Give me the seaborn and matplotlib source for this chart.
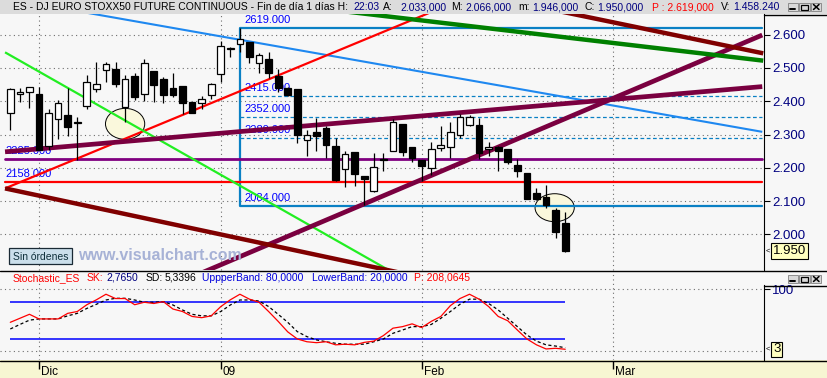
import numpy as np
import pandas as pd
import matplotlib
matplotlib.use("Agg")
import matplotlib.pyplot as plt
from matplotlib.patches import Rectangle, Ellipse
import seaborn as sns

# ---------------- data ----------------
opens  = [2364, 2422, 2429, 2422, 2264, 2346, 2359, 2334, 2387, 2436, 2494, 2497, 2384, 2476, 2422,
          2491, 2466, 2439, 2446, 2399, 2394, 2419, 2481, 2557, 2572, 2579, 2514, 2526, 2476, 2441,
          2436, 2282, 2309, 2319, 2266, 2196, 2246, 2174, 2129, 2226, 2249, 2331, 2262, 2224, 2199,
          2259, 2262, 2299, 2329, 2329, 2257, 2263, 2256, 2209, 2184, 2124, 2112, 2074, 2033]
highs  = [2440, 2439, 2444, 2444, 2376, 2404, 2439, 2354, 2479, 2519, 2519, 2519, 2479, 2484, 2526,
          2491, 2474, 2484, 2446, 2399, 2416, 2454, 2582, 2562, 2619, 2579, 2546, 2547, 2496, 2444,
          2436, 2314, 2349, 2326, 2289, 2249, 2246, 2174, 2244, 2244, 2346, 2331, 2262, 2224, 2277,
          2327, 2339, 2362, 2359, 2349, 2276, 2266, 2256, 2226, 2184, 2139, 2149, 2079, 2066]
lows   = [2314, 2399, 2379, 2252, 2254, 2286, 2294, 2224, 2376, 2429, 2459, 2444, 2339, 2404, 2401,
          2399, 2394, 2412, 2362, 2364, 2376, 2407, 2459, 2532, 2549, 2516, 2484, 2469, 2429, 2416,
          2274, 2234, 2249, 2229, 2159, 2142, 2146, 2089, 2126, 2189, 2249, 2236, 2216, 2159, 2179,
          2251, 2229, 2289, 2326, 2226, 2234, 2189, 2212, 2172, 2106, 2104, 2079, 1989, 1946]
closes = [2436, 2429, 2444, 2252, 2364, 2394, 2322, 2337, 2457, 2451, 2511, 2451, 2466, 2412, 2514,
          2449, 2419, 2419, 2396, 2366, 2407, 2451, 2567, 2559, 2587, 2532, 2539, 2484, 2439, 2419,
          2299, 2299, 2296, 2269, 2164, 2241, 2181, 2166, 2202, 2222, 2337, 2246, 2229, 2204, 2256,
          2269, 2309, 2354, 2354, 2244, 2263, 2251, 2216, 2189, 2106, 2106, 2087, 2007, 1950]
sk = [46.5, 53, 59.5, 52, 52, 52, 61, 64, 75, 83, 92, 85, 85, 75, 79, 77, 80, 68, 64, 56, 54, 57,
      72, 83, 92, 84, 79, 64, 48, 31, 19.5, 15, 13.5, 15, 10, 11, 10, 14, 16, 25, 37, 39.5, 44, 38,
      48, 56, 73.5, 85, 92, 84, 72, 56, 49, 34, 19.5, 10, 3.3, 4.4, 2.8]
sd = [35.7, 43, 50, 52, 52, 52, 57, 61, 69, 75.7, 82.7, 85.4, 85.4, 82.7, 79, 79, 80, 74.6, 66.5,
      59.5, 57, 57, 64, 74.6, 82.7, 82.7, 81, 72, 59.5, 46.5, 31.4, 23.3, 18, 15, 12.5, 11, 11, 11,
      15, 19.5, 28.7, 34, 39.5, 39.5, 43, 53, 64, 75.7, 84, 84, 77, 66.5, 53, 39.5, 26, 16, 10, 8, 5.3]
tick_labels = ["Dic", "09", "Feb", "Mar"]
tick_idx = [3, 22, 43, 63]
price_ticks = [2000, 2100, 2200, 2300, 2400, 2500, 2600]
stoch_bands = [80, 20]

# drawing objects (index, price) anchors
blue_line     = [(7.0, 2671), (78.6, 2308)]
red_line      = [(-0.55, 2138), (45.0, 2680)]
maroon_low    = [(-0.55, 2248), (78.6, 2444)]
maroon_steep  = [(20.0, 1884), (78.6, 2599)]
darkred_low   = [(-0.55, 2138), (40.5, 1886)]
darkred_high  = [(57.5, 2670), (78.7, 2544)]
green_line    = [(35.0, 2670), (78.7, 2522)]
lime_line     = [(-0.55, 2547), (40.0, 1885)]
level_purple  = 2225
level_red     = 2158
levels_span   = (-0.55, 78.6)
fib_levels    = [2619, 2415, 2352, 2289, 2084]
fib_span      = (24, 78.6)
ellipses      = [(12.0, 2332, 4.1, 93), (56.9, 2080, 4.1, 84)]

# ---------------- style / layout ----------------
sns.set_style("white")
plt.rcParams['font.family'] = ['Liberation Sans', 'DejaVu Sans']

W, H = 828, 378
BG = '#F7F7F7'
NAVY = '#000080'
fig = plt.figure(figsize=(W / 100, H / 100), dpi=100, facecolor=BG)


def box(x0, y0, x1, y1):
    return [x0 / W, 1 - y1 / H, (x1 - x0) / W, (y1 - y0) / H]


BAR0, BARW = 10.3, 9.567
XL = ((0 - BAR0) / BARW, (764 - BAR0) / BARW)
YL = (2600 - (270 - 34.7) * 3.006, 2600 + (34.7 - 14) * 3.006)
SPP = 100 / 61.7
YLS = (-(360 - 351) * SPP, 100 + (289.3 - 270) * SPP)
DOT = dict(color='#6E6E6E', lw=0.8, ls=(0, (1, 3)), zorder=0.5)

# ---------------- main price panel ----------------
ax = fig.add_axes(box(0, 14, 764, 270))
ax.set_facecolor(BG)
ax.set_xlim(*XL)
ax.set_ylim(*YL)
for p in price_ticks:
    ax.axhline(p, **DOT)
for t in tick_idx:
    ax.axvline(t, **DOT)

# ellipses
for cx, cy, ew, eh in ellipses:
    ax.add_patch(Ellipse((cx, cy), ew, eh, facecolor='#FAF8DC', edgecolor='black', lw=0.7, zorder=1))

# level labels
ax.annotate(f"{level_purple:.3f}", (levels_span[0], level_purple), xytext=(0, 8),
            textcoords='offset pixels', va='center', ha='left', fontsize=8, color='#0000FF', zorder=1.5)
ax.annotate(f"{level_red:.3f}", (levels_span[0], level_red), xytext=(0, 8),
            textcoords='offset pixels', va='center', ha='left', fontsize=8, color='#0000FF', zorder=1.5)
for lv in fib_levels:
    ax.annotate(f"{lv:.3f}", (fib_span[0], lv), xytext=(5, 8), textcoords='offset pixels',
                va='center', ha='left', fontsize=8, color='#0000FF', zorder=1.5, annotation_clip=False)

# fib rectangle + dashed levels
FIB = '#0A80C4'
ax.plot([fib_span[1], fib_span[0], fib_span[0], fib_span[1]],
        [fib_levels[0], fib_levels[0], fib_levels[-1], fib_levels[-1]], color=FIB, lw=1.6, zorder=2)
for lv in fib_levels[1:-1]:
    ax.plot(fib_span, [lv, lv], color=FIB, lw=0.9, ls=(0, (3, 2)), zorder=2)

# horizontal levels
ax.plot(levels_span, [level_purple] * 2, color='#800080', lw=2.0, zorder=2)
ax.plot(levels_span, [level_red] * 2, color='#FF0000', lw=1.6, zorder=2)


def seg(pts, **kw):
    xs, ys = zip(*pts)
    ax.plot(xs, ys, solid_capstyle='butt', zorder=2, **kw)


seg(blue_line, color='#1E88F0', lw=1.5)
seg(red_line, color='#FF0000', lw=1.6)
seg(lime_line, color='#22EE22', lw=1.6)
seg(maroon_low, color='#7A0040', lw=3.4)
seg(maroon_steep, color='#7A0040', lw=3.4)
seg(darkred_low, color='#800000', lw=3.2)
seg(darkred_high, color='#800000', lw=3.2)
seg(green_line, color='#008000', lw=3.2)

# candles
o, hi, lo, c = (np.array(v, dtype=float) for v in (opens, highs, lows, closes))
idx = np.arange(len(o))
up = c >= o
ax.vlines(idx, lo, hi, color='black', lw=0.9, zorder=3)
ax.bar(idx[up], np.maximum((c - o)[up], 3), bottom=o[up], width=0.7, color='white',
       edgecolor='black', lw=0.9, zorder=4)
ax.bar(idx[~up], np.maximum((o - c)[~up], 3), bottom=c[~up], width=0.7, color='black',
       edgecolor='black', lw=0.9, zorder=4)

ax.yaxis.tick_right()
ax.set_yticks(price_ticks)
ax.set_yticklabels([f"{p / 1000:.3f}" for p in price_ticks])
ax.tick_params(axis='y', direction='out', length=4, width=0.8, colors='black',
               labelcolor=NAVY, labelsize=9.5, pad=2)
ax.set_xticks([])
for s in ('left', 'top', 'bottom'):
    ax.spines[s].set_visible(False)
ax.spines['right'].set_color('black')
ax.spines['right'].set_linewidth(0.8)

ax.annotate(f"{closes[-1] / 1000:.3f}", xy=(1.0, closes[-1]), xycoords=ax.get_yaxis_transform(),
            xytext=(9, 0), textcoords='offset pixels', va='center', ha='left', fontsize=9.5,
            color='black', annotation_clip=False,
            bbox=dict(boxstyle='square,pad=0.12', facecolor='#FFFFC0', edgecolor='black', lw=0.8))
ax.annotate("<", xy=(1.0, closes[-1]), xycoords=ax.get_yaxis_transform(), xytext=(2, 0),
            textcoords='offset pixels', va='center', ha='left', fontsize=5.5, color='black',
            annotation_clip=False)

# ---------------- stochastic panel ----------------
axs = fig.add_axes(box(0, 270, 764, 360))
axs.set_facecolor(BG)
axs.set_xlim(*XL)
axs.set_ylim(*YLS)
for v in (0, 100):
    axs.axhline(v, **DOT)
for t in tick_idx:
    axs.axvline(t, **DOT)
axs.hlines(stoch_bands, idx[0], idx[-1], color='#0000FF', lw=1.1, zorder=2)
df = pd.DataFrame({'i': idx, 'sk': sk, 'sd': sd})
sns.lineplot(data=df, x='i', y='sd', ax=axs, color='black', lw=0.9, linestyle=(0, (2.5, 2)), zorder=3)
sns.lineplot(data=df, x='i', y='sk', ax=axs, color='#FF0000', lw=0.9, zorder=4)
axs.set_xlabel('')
axs.set_ylabel('')
axs.set_xticks([])
axs.yaxis.tick_right()
axs.set_yticks([100])
axs.set_yticklabels(['100'])
axs.tick_params(axis='y', direction='out', length=4, width=0.8, colors='black',
                labelcolor=NAVY, labelsize=9.5, pad=2)
for s in ('left', 'top', 'bottom'):
    axs.spines[s].set_visible(False)
axs.spines['right'].set_bounds(YLS[0], 100 + (289.3 - 285) * SPP)
axs.spines['right'].set_color('black')
axs.spines['right'].set_linewidth(0.8)
axs.annotate(f"{round(sk[-1]):d}", xy=(1.0, 2.5), xycoords=axs.get_yaxis_transform(),
             xytext=(9, 0), textcoords='offset pixels', va='center', ha='left', fontsize=9.5,
             color='black', annotation_clip=False,
             bbox=dict(boxstyle='square,pad=0.12', facecolor='#FFFFC0', edgecolor='black', lw=0.8))
axs.annotate("<", xy=(1.0, 2.5), xycoords=axs.get_yaxis_transform(), xytext=(2, 0),
             textcoords='offset pixels', va='center', ha='left', fontsize=5.5, color='black',
             annotation_clip=False)

# ---------------- bottom date band ----------------
axb = fig.add_axes(box(0, 360, 764, 378))
axb.set_xlim(*XL)
axb.set_ylim(18, 0)
axb.axis('off')
axb.vlines(tick_idx, 1, 8.5, color='black', lw=1.0)
for t, lab in zip(tick_idx, tick_labels):
    axb.annotate(lab, (t, 12), xytext=(2, 0), textcoords='offset pixels', va='center',
                 ha='left', fontsize=8.5, color='black')

# ---------------- overlay decorations (pixel coords) ----------------
ov = fig.add_axes([0, 0, 1, 1])
ov.set_xlim(0, W)
ov.set_ylim(H, 0)
ov.axis('off')
ov.set_zorder(-1)
ov.add_patch(Rectangle((0, 0), W, 14, facecolor='#DCDCDC', edgecolor='none'))
ov.add_patch(Rectangle((0, 360), W, 18, facecolor='#F7F6D2', edgecolor='none'))

top = fig.add_axes([0, 0, 1, 1])
top.set_xlim(0, W)
top.set_ylim(H, 0)
top.axis('off')
top.set_zorder(10)
K = dict(color='black', lw=1.0)
top.plot([0, W], [270.5, 270.5], **K)
top.plot([0, W], [360.5, 360.5], **K)
top.plot([764, W], [14.5, 14.5], **K)
top.plot([764, W], [285.5, 285.5], **K)


def buttons(y):
    for x0, kind in ((788, '_'), (799.5, 'box'), (811, 'x')):
        top.add_patch(Rectangle((x0, y), 10.5, 8, facecolor='#D8D8D8', edgecolor='#808080', lw=0.6))
        if kind == '_':
            top.plot([x0 + 2.5, x0 + 7.5], [y + 6, y + 6], color='black', lw=1.4)
        elif kind == 'box':
            top.add_patch(Rectangle((x0 + 2, y + 1.5), 6.5, 5, facecolor='none', edgecolor='black', lw=0.9))
        else:
            top.plot([x0 + 2.5, x0 + 8], [y + 1.5, y + 6.5], color='black', lw=1.1)
            top.plot([x0 + 2.5, x0 + 8], [y + 6.5, y + 1.5], color='black', lw=1.1)


buttons(3)
buttons(275)

# "Sin órdenes" button and watermark
top.add_patch(Rectangle((9, 248), 63, 16, facecolor='#CBDFEB', edgecolor='#1A2A35', lw=0.9))
top.text(40.5, 256.5, "Sin órdenes", ha='center', va='center', fontsize=7.5, color='#0E2F3A')
top.text(78, 256, "www.visualchart.com", ha='left', va='center', fontsize=11.5,
         fontweight='bold', color='#A7B2D6', zorder=1)

# header text segments
HY = 7.3
FS = 7.5
header = [(13, "ES - DJ EURO STOXX50 FUTURE CONTINUOUS - Fin de día 1 días H:", 'black'),
          (353, "22:03", NAVY), (383, "A:", 'black'), (400, "2.033,000", NAVY),
          (451, "M:", 'black'), (465, "2.066,000", NAVY), (518, "m:", 'black'),
          (532, "1.946,000", NAVY), (585, "C:", 'black'), (597, "1.950,000", NAVY),
          (652, "P : 2.619,000", '#FF0000'), (721, "V:", 'black'), (733, "1.458.240", NAVY)]
for x, s, col in header:
    top.text(x, HY, s, ha='left', va='center', fontsize=FS, color=col)

SY = 277.8
stoch_hdr = [(13, "Stochastic_ES", '#FF0000'), (87, "SK:", '#FF0000'), (106, "2,7650", NAVY),
             (146, "SD:", 'black'), (164.5, "5,3396", 'black'),
             (202, "UppperBand: 80,0000", '#0000DD'), (312, "LowerBand: 20,0000", '#0000DD'),
             (414, "P: 208,0645", '#FF0000')]
for x, s, col in stoch_hdr:
    top.text(x, SY, s, ha='left', va='center', fontsize=FS, color=col)

fig.savefig("out.png", dpi=100, facecolor=BG)
